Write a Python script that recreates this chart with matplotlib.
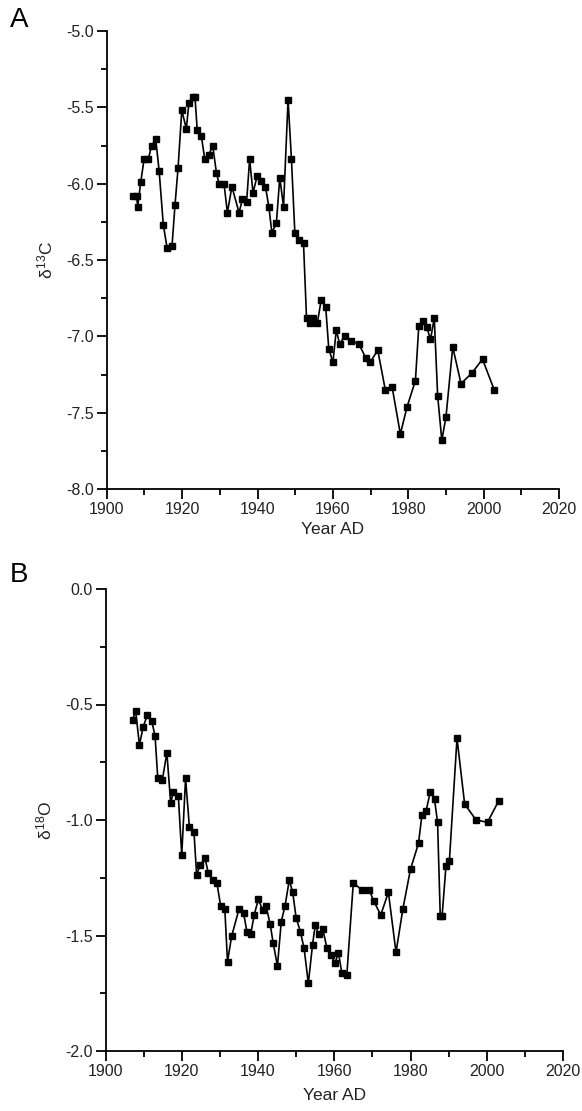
import matplotlib.pyplot as plt
from matplotlib.ticker import MultipleLocator

plt.rcParams['font.family'] = ['Liberation Sans', 'DejaVu Sans']
plt.rcParams['mathtext.fontset'] = 'custom'
plt.rcParams['mathtext.rm'] = 'Liberation Sans'
plt.rcParams['mathtext.it'] = 'Liberation Sans'

# Panel A: delta 13C
years_c = [1906.9, 1907.9, 1908.2, 1909.0, 1909.9, 1911.0, 1911.9, 1913.0, 1913.9, 1915.0,
           1916.0, 1917.3, 1918.1, 1918.9, 1919.9, 1921.1, 1921.8, 1922.8, 1923.4, 1924.0,
           1925.1, 1926.0, 1927.1, 1928.1, 1929.1, 1929.8, 1931.1, 1932.0, 1933.2, 1935.1,
           1936.0, 1937.1, 1937.9, 1938.8, 1939.9, 1941.0, 1942.1, 1943.0, 1943.8, 1945.0,
           1945.9, 1946.9, 1948.1, 1949.0, 1949.9, 1950.9, 1952.2, 1953.0, 1954.0, 1954.7,
           1955.9, 1956.9, 1958.1, 1958.9, 1960.0, 1960.9, 1961.8, 1963.1, 1964.9, 1966.9,
           1968.7, 1969.9, 1971.9, 1973.9, 1975.7, 1977.9, 1979.7, 1981.9, 1982.8, 1983.8,
           1984.9, 1985.9, 1986.9, 1987.8, 1988.9, 1990.0, 1991.8, 1994.0, 1996.9, 1999.7,
           2002.8]
d13c = [-6.08, -6.08, -6.15, -5.99, -5.84, -5.84, -5.75, -5.71, -5.92, -6.27,
        -6.42, -6.41, -6.14, -5.90, -5.52, -5.64, -5.47, -5.43, -5.43, -5.65,
        -5.69, -5.84, -5.81, -5.75, -5.93, -6.00, -6.00, -6.19, -6.02, -6.19,
        -6.10, -6.12, -5.84, -6.06, -5.95, -5.98, -6.02, -6.15, -6.32, -6.26,
        -5.96, -6.15, -5.45, -5.84, -6.32, -6.37, -6.39, -6.88, -6.91, -6.88,
        -6.91, -6.76, -6.81, -7.08, -7.17, -6.96, -7.05, -7.00, -7.03, -7.05,
        -7.14, -7.17, -7.09, -7.35, -7.33, -7.64, -7.46, -7.29, -6.93, -6.90,
        -6.94, -7.02, -6.88, -7.39, -7.68, -7.53, -7.07, -7.31, -7.24, -7.15,
        -7.35]

# Panel B: delta 18O
years_o = [1907.1, 1907.9, 1908.9, 1909.9, 1911.0, 1912.1, 1913.0, 1913.7, 1914.9, 1916.1,
           1917.1, 1917.8, 1919.1, 1920.0, 1921.0, 1922.0, 1923.2, 1923.9, 1924.8, 1926.1,
           1927.0, 1928.1, 1929.2, 1930.2, 1931.3, 1932.0, 1933.1, 1935.0, 1936.2, 1937.1,
           1938.1, 1939.0, 1940.1, 1941.2, 1942.1, 1943.2, 1944.0, 1945.1, 1946.1, 1947.1,
           1948.2, 1949.1, 1950.0, 1951.1, 1952.1, 1953.2, 1954.3, 1955.0, 1955.9, 1957.0,
           1958.1, 1959.1, 1960.2, 1961.1, 1962.0, 1963.3, 1965.0, 1967.2, 1969.2, 1970.3,
           1972.2, 1974.2, 1976.2, 1978.0, 1980.0, 1982.1, 1983.0, 1984.1, 1985.2, 1986.3,
           1987.1, 1987.8, 1988.3, 1989.3, 1990.2, 1992.2, 1994.2, 1997.2, 2000.2, 2003.1]
d18o = [-0.567, -0.527, -0.675, -0.596, -0.545, -0.570, -0.636, -0.817, -0.827, -0.709,
        -0.928, -0.877, -0.896, -1.152, -0.820, -1.029, -1.050, -1.238, -1.195, -1.166,
        -1.231, -1.260, -1.271, -1.372, -1.387, -1.613, -1.502, -1.387, -1.401, -1.484,
        -1.494, -1.411, -1.343, -1.390, -1.371, -1.452, -1.534, -1.632, -1.440, -1.371,
        -1.260, -1.313, -1.423, -1.483, -1.556, -1.707, -1.541, -1.455, -1.494, -1.473,
        -1.556, -1.584, -1.620, -1.574, -1.664, -1.671, -1.271, -1.303, -1.303, -1.349,
        -1.411, -1.313, -1.573, -1.385, -1.213, -1.101, -0.978, -0.960, -0.877, -0.911,
        -1.010, -1.414, -1.414, -1.199, -1.177, -0.646, -0.931, -1.000, -1.010, -0.918]

W, H = 582, 1111
fig = plt.figure(figsize=(W / 100, H / 100), dpi=100)

def px_axes(left, top, right, bottom):
    return fig.add_axes([left / W, 1 - bottom / H, (right - left) / W, (bottom - top) / H])

def style(ax, ylim, yticks, ylabel, xpad):
    ax.set_xlim(1900, 2020)
    ax.set_ylim(*ylim)
    ax.xaxis.set_major_locator(MultipleLocator(20))
    ax.xaxis.set_minor_locator(MultipleLocator(10))
    ax.set_yticks(yticks)
    ax.yaxis.set_minor_locator(MultipleLocator(0.25))
    ax.yaxis.set_major_formatter(plt.FormatStrFormatter('%.1f'))
    for s in ['top', 'right']:
        ax.spines[s].set_visible(False)
    for s in ['left', 'bottom']:
        ax.spines[s].set_linewidth(1.3)
    ax.tick_params(which='major', length=7, width=1.3, labelsize=11.5, pad=2,
                   labelcolor='#222222')
    ax.tick_params(which='minor', length=4, width=1.3)
    ax.set_xlabel('Year AD', fontsize=12.5, labelpad=xpad, color='#222222')
    ax.set_ylabel(ylabel, fontsize=12.5, labelpad=8, color='#222222')

axA = px_axes(106.8, 31, 559, 489)
axA.plot(years_c, d13c, color='black', lw=1.2, marker='s', markersize=4.5)
style(axA, (-8, -5), [-8, -7.5, -7, -6.5, -6, -5.5, -5], r'$\delta^{13}$C', 4)
fig.text(10 / W, 1 - 20 / H, 'A', fontsize=20, va='center', ha='left')

axB = px_axes(105.5, 589, 563, 1051)
axB.plot(years_o, d18o, color='black', lw=1.2, marker='s', markersize=4.5)
style(axB, (-2, 0), [-2, -1.5, -1, -0.5, 0], r'$\delta^{18}$O', 7)
fig.text(10 / W, 1 - 575 / H, 'B', fontsize=20, va='center', ha='left')

fig.savefig('out.png', dpi=100)
